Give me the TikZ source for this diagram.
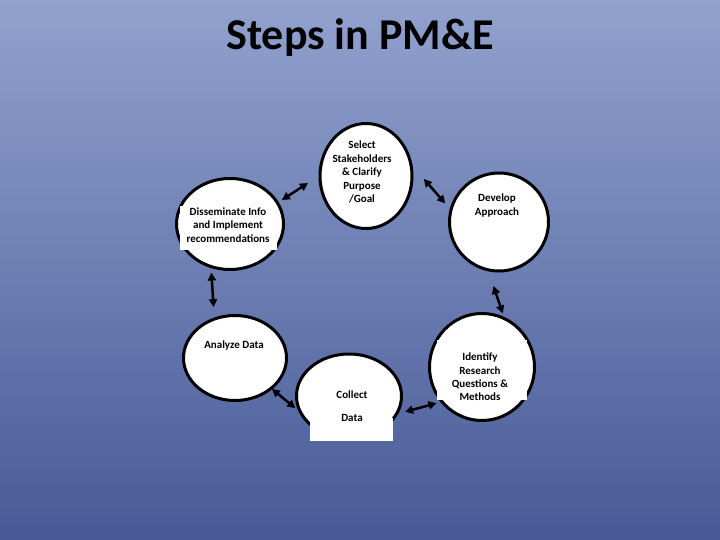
\documentclass[tikz,border=0pt]{standalone}
\usepackage{fontspec}
\setmainfont{Carlito}
\usetikzlibrary{shapes.geometric,arrows.meta}
\definecolor{bgtop}{RGB}{145,162,207}
\definecolor{bgbot}{RGB}{72,90,150}
\begin{document}
\begin{tikzpicture}[x=1pt,y=-1pt,
  stepcircle/.style={ellipse,draw=black,line width=3pt,fill=white,inner sep=0pt,outer sep=0pt},
  steplabel/.style={font=\bfseries\fontsize{11}{13.4}\selectfont,align=center,inner sep=0pt},
  cover/.style={fill=white,draw=none,inner sep=0pt,outer sep=0pt},
  arr/.style={line width=2.5pt,{Triangle[length=8pt,width=8pt]}-{Triangle[length=8pt,width=8pt]}}]
\useasboundingbox (0,0) rectangle (720,540);
\shade[top color=bgtop,bottom color=bgbot] (0,0) rectangle (720,540);

\node[font=\bfseries\fontsize{44}{52}\selectfont,anchor=base] (title) at (360,50) {Steps in PM\&E};

% circles
\node[stepcircle,minimum width=92pt,minimum height=105pt] (sel) at (366,176) {};
\node[stepcircle,minimum width=107pt,minimum height=91pt] (dis) at (230,224) {};
\node[stepcircle,minimum width=103pt,minimum height=85pt] (ana) at (235,358) {};
\node[stepcircle,minimum width=105pt,minimum height=84pt] (col) at (349,396) {};
\node[stepcircle,minimum width=105pt,minimum height=107pt] (ide) at (482,367) {};
\node[stepcircle,minimum width=99pt,minimum height=98pt] (dev) at (499,222) {};

% white text boxes
\node[cover,minimum width=97pt,minimum height=44pt] (disbox) at (228.5,228) {};
\node[cover,minimum width=83pt,minimum height=23pt] (colbox) at (351.5,429.5) {};
\node[cover,minimum width=90pt,minimum height=60pt] (idebox) at (482,370) {};

% labels
\node[steplabel] (selt) at (362,172) {Select\\Stakeholders\\\& Clarify\\Purpose\\/Goal};
\node[steplabel] (dist) at (228,225) {Disseminate Info\\and Implement\\recommendations};
\node[steplabel] (anat) at (234,346) {Analyze Data};
\node[steplabel] (colt) at (352,406.5) {Collect\\[9.6pt]Data};
\node[steplabel] (idet) at (480,377) {Identify\\Research\\Questions \&\\Methods};
\node[steplabel] (devt) at (497,205.5) {Develop\\Approach};

% arrows
\draw[arr,shorten <=5.3pt,shorten >=14.3pt] (dis.24.5) -- (sel.179);
\draw[arr,shorten <=19.8pt,shorten >=8.8pt] (sel.15.3) -- (dev.166.3);
\draw[arr,shorten <=17.1pt,shorten >=5.5pt] (dev.257.5) -- (ide.65.3);
\draw[arr,shorten <=9.1pt,shorten >=5.7pt] (col.339.2) -- (ide.221.8);
\draw[arr,shorten <=1pt,shorten >=7pt] (ana.320.2) -- (col.199.4);
\draw[arr,shorten <=6pt,shorten >=12pt] (dis.246.7) -- (ana.118.8);
\end{tikzpicture}
\end{document}
